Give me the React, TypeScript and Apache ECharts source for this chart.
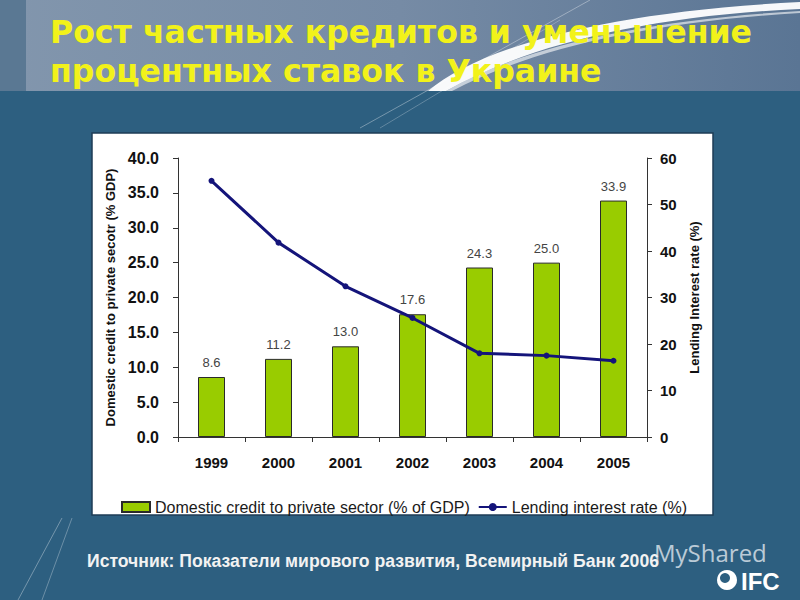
import React, { useEffect, useRef } from "react";
import * as echarts from "echarts";

const years = ["1999", "2000", "2001", "2002", "2003", "2004", "2005"];
const creditValues = [8.6, 11.2, 13.0, 17.6, 24.3, 25.0, 33.9];
const rateValues = [55.1, 41.8, 32.4, 25.6, 18.0, 17.5, 16.4];
const creditName = "Domestic credit to private sector (% of GDP)";
const rateName = "Lending interest rate (%)";
const leftAxisName = "Domestic credit to private secotr (% GDP)";
const rightAxisName = "Lending Interest rate (%)";
const titleLine1 = "Рост частных кредитов и уменьшение";
const titleLine2 = "процентных ставок в Украине";
const sourceText = "Источник: Показатели мирового развития, Всемирный Банк 2006";

let registered = false;
function registerShapes() {
  if (registered) return;
  registered = true;
  echarts.graphic.registerShape(
    "swoosh",
    echarts.graphic.extendPath(
      "M 428 91 C 480 48 600 12 800 2 L 800 9 C 650 16 530 44 446 91 Z",
      {}
    )
  );
  echarts.graphic.registerShape(
    "swoosh2",
    echarts.graphic.extendPath(
      "M 446 91 C 520 48 640 20 800 11 L 800 13 C 645 22 530 50 452 91 Z",
      {}
    )
  );
}

export default function App() {
  const ref = useRef<HTMLDivElement>(null);
  useEffect(() => {
    if (!ref.current) return;
    registerShapes();
    const chart = echarts.init(ref.current, null, { renderer: "svg" });
    const font = "Arial, 'Liberation Sans', sans-serif";
    chart.setOption({
      animation: false,
      backgroundColor: "#2d5f80",
      textStyle: { fontFamily: font },
      graphic: [
        {
          type: "rect",
          z: -20,
          shape: { x: 0, y: 0, width: 800, height: 91 },
          style: {
            fill: new echarts.graphic.LinearGradient(0, 0, 1, 0, [
              { offset: 0, color: "#8296ad" },
              { offset: 0.5, color: "#768ba5" },
              { offset: 1, color: "#5a7594" },
            ]),
          },
        },
        {
          type: "rect",
          z: -19,
          shape: { x: 0, y: 0, width: 26, height: 91 },
          style: { fill: "#5a7893" },
        },
        {
          type: "line",
          z: -18,
          shape: { x1: 360, y1: 128, x2: 590, y2: 0 },
          style: { stroke: "rgba(255,255,255,0.35)", lineWidth: 1 },
        },
        {
          type: "line",
          z: -18,
          shape: { x1: 380, y1: 128, x2: 560, y2: 20 },
          style: { stroke: "rgba(255,255,255,0.25)", lineWidth: 1 },
        },
        {
          type: "line",
          z: -18,
          shape: { x1: 18, y1: 600, x2: 62, y2: 518 },
          style: { stroke: "rgba(255,255,255,0.35)", lineWidth: 1 },
        },
        {
          type: "line",
          z: -18,
          shape: { x1: 42, y1: 600, x2: 72, y2: 518 },
          style: { stroke: "rgba(255,255,255,0.3)", lineWidth: 1 },
        },
        {
          type: "swoosh",
          z: -17,
          style: { fill: "rgba(255,255,255,0.95)" },
        },
        {
          type: "swoosh2",
          z: -17,
          style: { fill: "rgba(255,255,255,0.6)" },
        },
        {
          type: "text",
          z: 10,
          x: 50,
          y: 32,
          style: {
            text: titleLine1,
            font: "bold 31.6px 'DejaVu Sans', sans-serif",
            fill: "#f2f21a",
            verticalAlign: "middle",
          },
        },
        {
          type: "text",
          z: 10,
          x: 50,
          y: 71,
          style: {
            text: titleLine2,
            font: "bold 31.6px 'DejaVu Sans', sans-serif",
            fill: "#f2f21a",
            verticalAlign: "middle",
          },
        },
        {
          type: "rect",
          z: -10,
          shape: { x: 92, y: 133, width: 621, height: 382 },
          style: { fill: "#ffffff", stroke: "#1e3d55", lineWidth: 1.5 },
        },
        {
          type: "text",
          z: 10,
          x: 87,
          y: 561,
          style: {
            text: sourceText,
            font: "bold 17.6px Arial, 'Liberation Sans', sans-serif",
            fill: "#f2f2f2",
            verticalAlign: "middle",
          },
        },
        {
          type: "text",
          z: 11,
          x: 654,
          y: 552,
          style: {
            text: "MyShared",
            font: "24px 'Open Sans', Arial, sans-serif",
            fill: "rgba(235,240,245,0.75)",
            verticalAlign: "middle",
          },
        },
        {
          type: "circle",
          z: 11,
          shape: { cx: 727, cy: 580, r: 10 },
          style: { fill: "#ffffff" },
        },
        {
          type: "circle",
          z: 12,
          shape: { cx: 725, cy: 578, r: 5 },
          style: { fill: "#2d5f80" },
        },
        {
          type: "text",
          z: 11,
          x: 741,
          y: 581,
          style: {
            text: "IFC",
            font: "bold 24px 'Liberation Sans Narrow', Arial, sans-serif",
            fill: "#ffffff",
            verticalAlign: "middle",
          },
        },
      ],
      legend: {
        left: 116,
        top: 494,
        itemWidth: 28,
        itemHeight: 10,
        itemGap: 8,
        textStyle: { fontSize: 16, color: "#1a1a1a", fontFamily: font },
        data: [
          { name: creditName, icon: "rect" },
          { name: rateName },
        ],
      },
      grid: { left: 178, right: 153, top: 158, bottom: 163 },
      xAxis: {
        type: "category",
        data: years,
        boundaryGap: true,
        axisLine: { lineStyle: { color: "#333", width: 1 } },
        axisTick: { show: true, length: 5, alignWithLabel: false, lineStyle: { color: "#333" } },
        axisLabel: {
          fontSize: 15,
          fontWeight: "bold",
          color: "#111",
          margin: 18,
          fontFamily: font,
        },
      },
      yAxis: [
        {
          type: "value",
          min: 0,
          max: 40,
          interval: 5,
          position: "left",
          name: leftAxisName,
          nameLocation: "middle",
          nameRotate: 90,
          nameGap: 56,
          nameTextStyle: { fontSize: 13, fontWeight: "bold", color: "#111", fontFamily: font },
          splitLine: { show: false },
          axisLine: { show: true, lineStyle: { color: "#333" } },
          axisTick: { show: true, length: 5, lineStyle: { color: "#333" } },
          axisLabel: {
            fontSize: 16,
            fontWeight: "bold",
            color: "#111",
            margin: 19,
            fontFamily: font,
            formatter: (v: number) => v.toFixed(1),
          },
        },
        {
          type: "value",
          min: 0,
          max: 60,
          interval: 10,
          position: "right",
          name: rightAxisName,
          nameLocation: "middle",
          nameRotate: 90,
          nameGap: 40,
          nameTextStyle: { fontSize: 13, fontWeight: "bold", color: "#111", fontFamily: font },
          splitLine: { show: false },
          axisLine: { show: true, lineStyle: { color: "#333" } },
          axisTick: { show: true, length: 5, lineStyle: { color: "#333" } },
          axisLabel: {
            fontSize: 15,
            fontWeight: "bold",
            color: "#111",
            margin: 13,
            fontFamily: font,
          },
        },
      ],
      series: [
        {
          name: creditName,
          type: "bar",
          data: creditValues,
          barWidth: 27,
          itemStyle: { color: "#99cc00", borderColor: "#2a2a2a", borderWidth: 1 },
          label: {
            show: true,
            position: "top",
            distance: 8,
            fontSize: 13,
            color: "#444",
            fontFamily: font,
            formatter: (p: any) => Number(p.value).toFixed(1),
          },
        },
        {
          name: rateName,
          type: "line",
          yAxisIndex: 1,
          data: rateValues,
          symbol: "circle",
          symbolSize: 6,
          lineStyle: { color: "#14147a", width: 3 },
          itemStyle: { color: "#14147a" },
          z: 5,
        },
      ],
    });
    return () => chart.dispose();
  }, []);
  return (
    <div
      ref={ref}
      style={{ position: "absolute", left: 0, top: 0, width: 800, height: 600 }}
    />
  );
}
